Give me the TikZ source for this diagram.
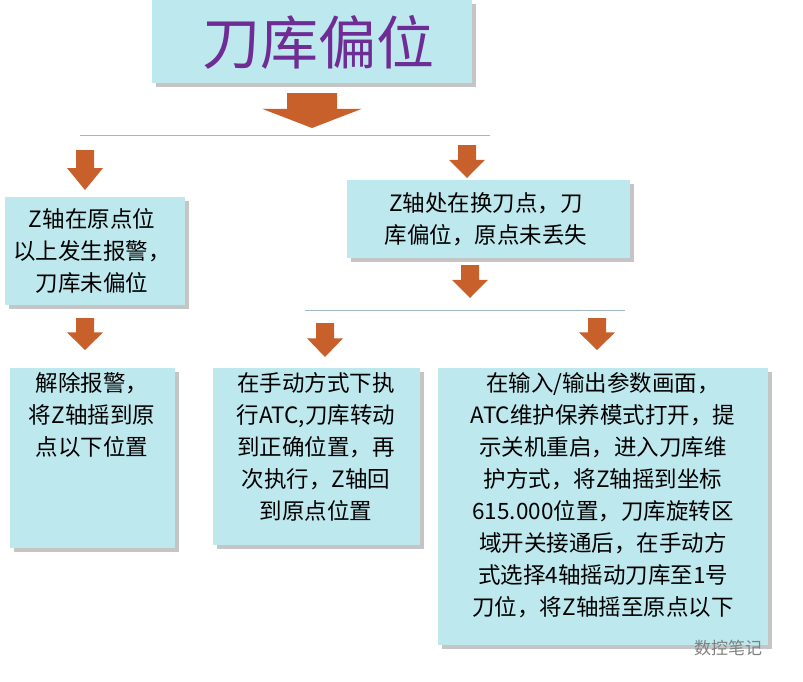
\documentclass[tikz,border=0pt]{standalone}
\usepackage{fontspec}
\setmainfont{Noto Sans CJK SC}
\usetikzlibrary{shadows}
\definecolor{boxc}{HTML}{BDE8EE}
\definecolor{arr}{HTML}{C8602C}
\definecolor{ttl}{HTML}{6E2C94}
\definecolor{ln}{HTML}{9FB8C8}
\tikzset{
  box/.style={fill=boxc, draw=none, drop shadow={shadow xshift=4pt,shadow yshift=-4pt,opacity=0.45,fill=gray}},
  txt/.style={align=center, font=\fontsize{22.5}{32}\selectfont, inner sep=0pt},
  sepline/.style={draw=ln, line width=0.8pt}
}
\newcommand{\darrow}[4]{% x, ytop, width, height
  \fill[arr] ({#1-#3*0.25},-#2) -- ({#1+#3*0.25},-#2) -- ({#1+#3*0.25},{-#2-#4*0.45}) -- ({#1+#3*0.5},{-#2-#4*0.45}) -- (#1,{-#2-#4}) -- ({#1-#3*0.5},{-#2-#4*0.45}) -- ({#1-#3*0.25},{-#2-#4*0.45}) -- cycle;}
\begin{document}
\begin{tikzpicture}[x=1pt,y=1pt]
\useasboundingbox[fill=white] (0,0) rectangle (803,-681);
% title
\fill[box] (152,0) rectangle (472,-83);
\node[font=\fontsize{58}{62}\selectfont, text=ttl, inner sep=0pt] (title) at (318,-42) {刀库偏位};
\darrow{312}{93}{100}{35}
\draw[sepline] (80,-135) -- (490,-135);
\darrow{85}{150}{36}{40}
\darrow{467}{145}{36}{33}
% left box
\fill[box] (5,-197) rectangle (185,-305);
\node[txt] (a) at (92,-251) {Z轴在原点位\\以上发生报警，\\刀库未偏位};
% right box
\fill[box] (347,-180) rectangle (630,-258);
\node[txt] (b) at (486,-219) {Z轴处在换刀点，刀\\库偏位，原点未丢失};
\darrow{470}{265}{36}{33}
\draw[sepline] (305,-310) -- (625,-310);
\darrow{85}{318}{36}{32}
\darrow{325}{323}{36}{34}
\darrow{597}{318}{36}{32}
% bottom boxes
\fill[box] (10,-368) rectangle (175,-548);
\node[txt, anchor=north] (c) at (92,-372) {解除报警，\\将Z轴摇到原\\点以下位置};
\fill[box] (213,-368) rectangle (420,-545);
\node[txt, anchor=north] (d) at (316,-372) {在手动方式下执\\行ATC,刀库转动\\到正确位置，再\\次执行，Z轴回\\到原点位置};
\fill[box] (438,-368) rectangle (768,-645);
\node[txt, anchor=north] (e) at (603,-372) {在输入/输出参数画面，\\ATC维护保养模式打开，提\\示关机重启，进入刀库维\\护方式，将Z轴摇到坐标\\615.000位置，刀库旋转区\\域开关接通后，在手动方\\式选择4轴摇动刀库至1号\\刀位，将Z轴摇至原点以下};
\node[font=\fontsize{17}{20}\selectfont, text=gray, inner sep=0pt] (wm) at (728,-648) {数控笔记};
\end{tikzpicture}
\end{document}
